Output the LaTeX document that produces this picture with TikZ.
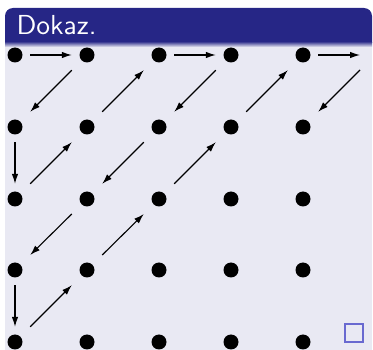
\documentclass[tikz,border=0pt]{standalone}
\usetikzlibrary{arrows.meta}
\definecolor{hdr}{RGB}{38,38,134}
\definecolor{bodybg}{RGB}{233,233,243}
\definecolor{qedc}{RGB}{105,105,208}
\tikzset{
  gridpt/.style={rectangle, minimum size=30pt, inner sep=0pt},
  arr/.style={-{Latex[length=10pt,width=6.5pt]}, line width=1.1pt, black},
}
\begin{document}
\begin{tikzpicture}[x=1pt,y=-1pt]
\useasboundingbox (0,0) rectangle (373,350);
% block body
\fill[bodybg] (5,42) rectangle (372,350);
% header
\fill[hdr] (5,43) [rounded corners=8pt] -- (5,8) -- (372,8) [sharp corners] -- (372,43) -- cycle;
\shade[top color=hdr!70!bodybg, bottom color=bodybg] (5,43) rectangle (372,47);
\node[anchor=base west, text=white, inner sep=0pt, font=\sffamily\fontsize{10}{12}\selectfont, scale=2.75] (title) at (16,35) {Dokaz.};
% grid
\foreach \i/\x in {0/15,1/87,2/159,3/231,4/303}
  \foreach \j/\y in {0/55,1/127,2/199,3/270,4/342}
    \node[gridpt] (d\i\j) at (\x,\y) {};
\foreach \i in {0,...,4}
  \foreach \j in {0,...,4}
    \fill (d\i\j.center) circle (7.5);
\coordinate (e1) at (360,55);
\coordinate (e2) at (360,70);
% arrows
\draw[arr] (d00) -- (d10);
\draw[arr] (d10) -- (d01);
\draw[arr] (d01) -- (d02);
\draw[arr] (d02) -- (d11);
\draw[arr] (d11) -- (d20);
\draw[arr] (d20) -- (d30);
\draw[arr] (d30) -- (d21);
\draw[arr] (d21) -- (d12);
\draw[arr] (d12) -- (d03);
\draw[arr] (d03) -- (d04);
\draw[arr] (d04) -- (d13);
\draw[arr] (d13) -- (d22);
\draw[arr] (d22) -- (d31);
\draw[arr] (d31) -- (d40);
\draw[arr] (d40) -- (e1);
\draw[arr] (e2) -- (d41);
% qed
\node[draw=qedc, line width=1.3pt, minimum size=18pt, inner sep=0pt] (qed) at (354,333) {};
\end{tikzpicture}
\end{document}
